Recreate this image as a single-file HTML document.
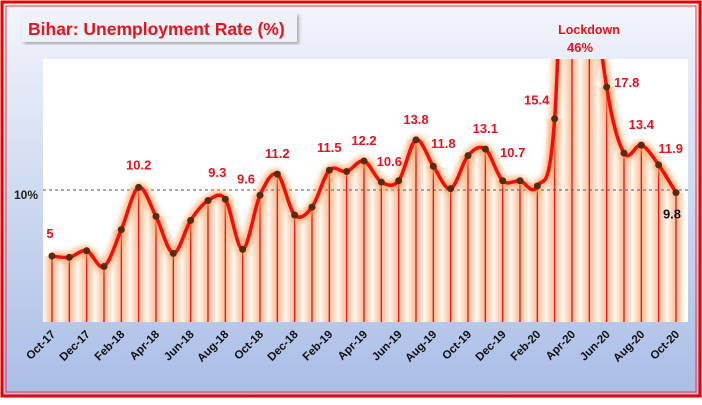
<!DOCTYPE html>
<html><head><meta charset="utf-8"><style>
body{margin:0;width:702px;height:400px;overflow:hidden;font-family:"Liberation Sans",sans-serif}
</style></head><body>
<svg id="c" width="702" height="400" xmlns="http://www.w3.org/2000/svg">
<defs>
<linearGradient id="bg" x1="0" y1="0" x2="0" y2="1"><stop offset="0" stop-color="#f3f5fb"/><stop offset="1" stop-color="#a9bde6"/></linearGradient>
<linearGradient id="bar" x1="0" y1="0" x2="1" y2="0"><stop offset="0" stop-color="#fff6ee"/><stop offset="0.5" stop-color="#f6b98e"/><stop offset="1" stop-color="#fff6ee"/></linearGradient>
<filter id="glow" x="-10%" y="-10%" width="120%" height="120%"><feGaussianBlur stdDeviation="3"/></filter>
<filter id="sh"><feDropShadow dx="2" dy="2" stdDeviation="1.5" flood-color="#777" flood-opacity="0.6"/></filter>
<clipPath id="pc"><rect x="43" y="59" width="645" height="263"/></clipPath>
</defs>
<rect x="0" y="0" width="702" height="400" fill="#fff"/>
<rect x="2" y="2" width="698" height="394" fill="url(#bg)" stroke="#ee0000" stroke-width="3"/>
<rect x="6" y="6" width="690" height="386" fill="none" stroke="#ee3333" stroke-width="1"/>
<rect x="43" y="59" width="645" height="263" fill="#fff"/>
<g filter="url(#sh)"><rect x="22" y="13" width="275" height="29" fill="#eef1f8"/></g>
<text x="28" y="35" font-size="17.5" font-weight="bold" fill="#e8121e">Bihar: Unemployment Rate (%)</text>
<g id="bars" clip-path="url(#pc)"></g>
<line x1="43" y1="190" x2="688" y2="190" stroke="#555" stroke-dasharray="3,3" stroke-width="1"/>
<text x="38" y="199" font-size="12" font-weight="bold" text-anchor="end" fill="#222">10%</text>
<g id="line" clip-path="url(#pc)"></g>
<g id="labels"></g>
<g id="xaxis"></g>
<text x="589" y="34" font-size="12.5" font-weight="bold" text-anchor="middle" fill="#e8121e">Lockdown</text>
</svg>
<script>
const months=["Oct-17","Nov-17","Dec-17","Jan-18","Feb-18","Mar-18","Apr-18","May-18","Jun-18","Jul-18","Aug-18","Sep-18","Oct-18","Nov-18","Dec-18","Jan-19","Feb-19","Mar-19","Apr-19","May-19","Jun-19","Jul-19","Aug-19","Sep-19","Oct-19","Nov-19","Dec-19","Jan-20","Feb-20","Mar-20","Apr-20","May-20","Jun-20","Jul-20","Aug-20","Sep-20","Oct-20"];
const rates=[5,4.9,5.4,4.2,7.0,10.2,8.0,5.2,7.7,9.2,9.3,5.5,9.6,11.2,8.1,8.7,11.5,11.4,12.2,10.6,10.7,13.8,11.8,10.1,12.6,13.1,10.7,10.7,10.3,15.4,46,29,17.8,12.8,13.4,11.9,9.8];
const labelIdx=[0,5,10,12,13,16,18,19,21,22,25,26,29,30,32,34,35,36];
const labelText=["5","10.2","9.3","9.6","11.2","11.5","12.2","10.6","13.8","11.8","13.1","10.7","15.4","46%","17.8","13.4","11.9","9.8"];
const labelDx=[-2,0,-8,-14,0,0,0,8,0,10,0,10,-18,0,20,0,12,-4];
const labelDy=[-18,-18,-22,-12,-16,-18,-16,-16,-16,-18,-16,-24,-14,0,0,-16,-12,26];
const X0=52,X1=676,YB=322,PX=13.2;
const sx=i=>X0+i*(X1-X0)/(months.length-1);
const sy=v=>YB-v*PX;
const NS="http://www.w3.org/2000/svg";
const mk=(t,a,p)=>{const e=document.createElementNS(NS,t);for(const k in a)e.setAttribute(k,a[k]);p.appendChild(e);return e;};
const bw=(X1-X0)/(months.length-1);
const gb=document.getElementById('bars');
rates.forEach((v,i)=>{
 const r=mk('rect',{x:sx(i)-bw/2,y:sy(v),width:bw,height:YB-sy(v),fill:'url(#bar)'},gb);
 
 
 const l=mk('line',{x1:sx(i),x2:sx(i),y1:sy(v),y2:YB,stroke:'#e8121e','stroke-width':1.3},gb);
 
 
});
const pts=rates.map((v,i)=>[sx(i),sy(v)]);
let d='M'+pts[0][0]+','+pts[0][1];
for(let i=0;i<pts.length-1;i++){
 const p0=pts[Math.max(0,i-1)],p1=pts[i],p2=pts[i+1],p3=pts[Math.min(pts.length-1,i+2)];
 const t=6;
 d+=' C'+(p1[0]+(p2[0]-p0[0])/t)+','+(p1[1]+(p2[1]-p0[1])/t)+' '+(p2[0]-(p3[0]-p1[0])/t)+','+(p2[1]-(p3[1]-p1[1])/t)+' '+p2[0]+','+p2[1];
}
const gl=document.getElementById('line');
mk('path',{d:d,fill:'none',stroke:'#f7a15c','stroke-width':9,filter:'url(#glow)',opacity:0.8},gl);
const ln=mk('path',{d:d,fill:'none',stroke:'#f20d0d','stroke-width':3.5},gl);


pts.forEach((p,i)=>{
 const c=mk('circle',{cx:p[0],cy:p[1],r:3.5,fill:'#5a2a14'},gl);
 
 
});
const glb=document.getElementById('labels');
labelIdx.forEach((idx,k)=>{
 let x=sx(idx)+labelDx[k],y=sy(rates[idx])+labelDy[k];
 if(rates[idx]>20){y=52;x=sx(idx)+8;}
 const t=mk('text',{x:x,y:y,'font-size':13,'font-weight':'bold','text-anchor':'middle',fill:idx==36?'#111':'#e8121e'},glb);
 t.textContent=labelText[k];
 
 
});
const gx=document.getElementById('xaxis');
months.forEach((m,i)=>{
 if(i%2)return;
 const x=sx(i);
 const t=mk('text',{x:x+4,y:335,'font-size':11.5,'font-weight':'bold','text-anchor':'end',fill:'#111',transform:'rotate(-45 '+(x+4)+' 335)'},gx);
 t.textContent=m;
 
 
});
</script>
</body></html>
